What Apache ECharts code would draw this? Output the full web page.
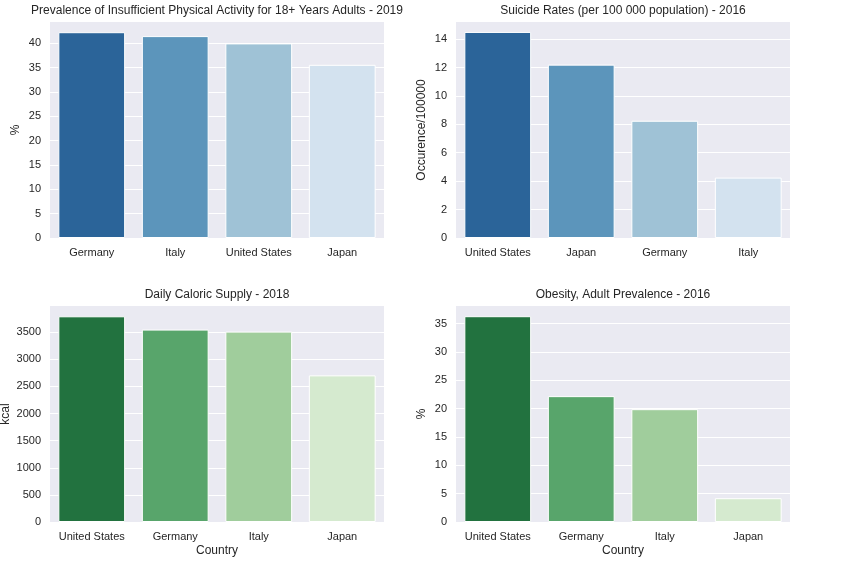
<!DOCTYPE html>
<html><head><meta charset="utf-8">
<script src="https://cdn.jsdelivr.net/npm/echarts@6/dist/echarts.min.js"></script>
<style>html,body{margin:0;padding:0;background:#fff}#c{width:843px;height:561px}</style>
</head><body><div id="c"></div>
<script>
// Panel 1: insufficient physical activity
const cats1 = ["Germany", "Italy", "United States", "Japan"];
const vals1 = [42.3, 41.5, 40.0, 35.6];
// Panel 2: suicide rates
const cats2 = ["United States", "Japan", "Germany", "Italy"];
const vals2 = [14.5, 12.2, 8.25, 4.25];
// Panel 3: daily caloric supply
const cats3 = ["United States", "Germany", "Italy", "Japan"];
const vals3 = [3793, 3548, 3511, 2704];
// Panel 4: obesity
const cats4 = ["United States", "Germany", "Italy", "Japan"];
const vals4 = [36.3, 22.2, 19.9, 4.2];

const titles = ["Prevalence of Insufficient Physical Activity for 18+ Years Adults - 2019",
  "Suicide Rates (per 100 000 population) - 2016", "Daily Caloric Supply - 2018", "Obesity, Adult Prevalence - 2016"];
const yNames = ["%", "Occurence/100000", "kcal", "%"];
const xNames = ["", "", "Country", "Country"];
const blues = ["#2b6499", "#5c95bb", "#9fc2d6", "#d3e2ef"];
const greens = ["#22723f", "#58a56b", "#a0cd9c", "#d5eacf"];

const TXT = "#262626";
const FONT = "Liberation Sans, Arial, sans-serif";
const grids = [
  {left: 50, top: 22, width: 334, height: 216},
  {left: 456, top: 22, width: 334, height: 216},
  {left: 50, top: 306, width: 334, height: 216},
  {left: 456, top: 306, width: 334, height: 216}
];
const cats = [cats1, cats2, cats3, cats4];
const vals = [vals1, vals2, vals3, vals4];
const palettes = [blues, blues, greens, greens];
const yMax = [44.4, 15.2, 3983, 38.1];
const yInt = [5, 2, 500, 5];
const nameGaps = [28, 28, 38, 28];

const option = {
  backgroundColor: "#fff",
  animation: false,
  textStyle: {fontFamily: FONT, color: TXT},
  grid: grids.map(g => Object.assign({show: true, backgroundColor: "#eaeaf2", borderWidth: 0,
    containLabel: false, outerBoundsMode: "none"}, g)),
  xAxis: cats.map((c, i) => ({
    type: "category", gridIndex: i, data: c,
    axisLine: {show: false}, axisTick: {show: false},
    axisLabel: {color: TXT, fontSize: 11, margin: 9, interval: 0, fontFamily: FONT},
    splitLine: {show: false},
    name: xNames[i], nameLocation: "middle", nameGap: 23,
    nameTextStyle: {color: TXT, fontSize: 12, fontFamily: FONT}
  })),
  yAxis: cats.map((c, i) => ({
    type: "value", gridIndex: i, min: 0, max: yMax[i], interval: yInt[i],
    axisLine: {show: false}, axisTick: {show: false},
    axisLabel: {color: TXT, fontSize: 11, margin: 9, showMaxLabel: false, fontFamily: FONT,
      formatter: v => String(v)},
    splitLine: {show: true, showMaxLine: false, lineStyle: {color: "#fff", width: 1}},
    name: yNames[i], nameLocation: "middle", nameGap: nameGaps[i],
    nameTextStyle: {color: TXT, fontSize: 12, fontFamily: FONT}
  })),
  series: vals.map((v, i) => ({
    type: "bar", xAxisIndex: i, yAxisIndex: i,
    barCategoryGap: "20%",
    data: v.map((d, j) => ({value: d, itemStyle: {color: palettes[i][j]}})),
    itemStyle: {borderColor: "#fff", borderWidth: 1}
  })),
  graphic: titles.map((t, i) => ({
    type: "text",
    x: grids[i].left + grids[i].width / 2,
    y: grids[i].top - 11,
    style: {text: t, textAlign: "center", textVerticalAlign: "middle",
      font: "12px " + FONT, fill: TXT}
  }))
};
const chart = echarts.init(document.getElementById("c"), null, {renderer: "canvas"});
chart.setOption(option);
</script></body></html>
